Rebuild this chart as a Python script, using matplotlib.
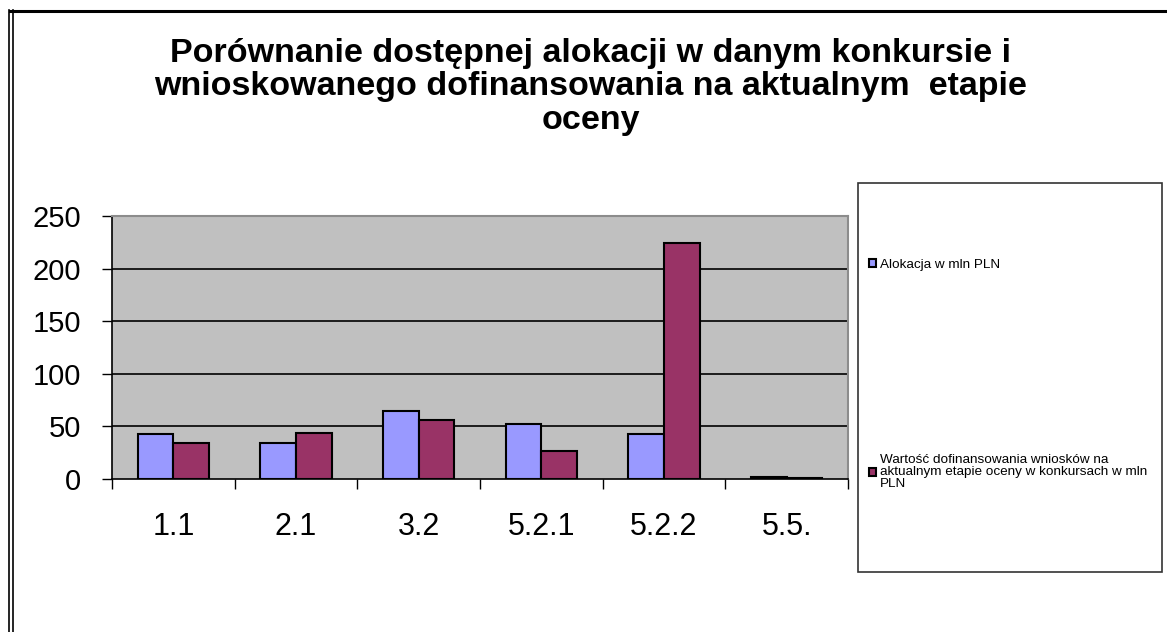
import numpy as np
import matplotlib.pyplot as plt
from matplotlib.lines import Line2D
from matplotlib.patches import Rectangle

categories = ['1.1', '2.1', '3.2', '5.2.1', '5.2.2', '5.5.']
alokacja = [43, 34.5, 65, 52.5, 43, 2]
wnioskowane = [34.5, 44, 56.5, 27, 224.5, 1]
series_labels = ['Alokacja w mln PLN',
                 'Wartość dofinansowania wniosków na\naktualnym etapie oceny w konkursach w mln\nPLN']
y_ticks = [0, 50, 100, 150, 200, 250]

title = ('Porównanie dostępnej alokacji w danym konkursie i\n'
         'wnioskowanego dofinansowania na aktualnym  etapie\n'
         'oceny')

plt.rcParams['font.family'] = ['Liberation Sans', 'DejaVu Sans']

W, H = 1167, 632
fig = plt.figure(figsize=(W / 100, H / 100), dpi=100)

# ramka wokół całego wykresu
fig.add_artist(Line2D([10 / W, 1], [1 - 10.5 / H] * 2, color='black', lw=2.2))
for xp in (9, 12.5):
    fig.add_artist(Line2D([xp / W] * 2, [0, 1 - 10 / H], color='black', lw=1.2))

fig.text(591 / W, 1 - 38 / H, title, ha='center', va='top', fontsize=24.5,
         fontweight='bold', linespacing=1.1)

ax = fig.add_axes([112 / W, 1 - 479 / H, 736 / W, 263 / H])
ax.set_facecolor('#C0C0C0')

x = np.arange(len(categories))
bw = 0.29
b1 = ax.bar(x - bw / 2, alokacja, bw, color='#9999FF', edgecolor='black', lw=1.5, zorder=3)
b2 = ax.bar(x + bw / 2, wnioskowane, bw, color='#993366', edgecolor='black', lw=1.5, zorder=3)

ax.set_xlim(-0.5, len(categories) - 0.5)
ax.set_ylim(0, 250)
ax.set_yticks(y_ticks)
ax.set_yticklabels([str(v) for v in y_ticks], fontsize=21)
for v in y_ticks[1:-1]:
    ax.axhline(v, color='black', lw=1.2, zorder=1)

ax.set_xticks(np.arange(-0.5, len(categories)), labels=[''] * (len(categories) + 1))
ax.set_xticks(x, labels=categories, minor=True, fontsize=22)
ax.tick_params(axis='x', which='major', direction='out', length=7, width=1, color='black')
ax.tick_params(axis='x', which='minor', length=0, pad=24)
ax.tick_params(axis='y', direction='out', length=7, width=1, pad=15)

for s in ('left', 'bottom'):
    ax.spines[s].set_color('black')
    ax.spines[s].set_linewidth(1.2)
for s in ('top', 'right'):
    ax.spines[s].set_color('#8C8C8C')
    ax.spines[s].set_linewidth(1.5)

# legenda
fig.add_artist(Rectangle((858 / W, 1 - 572 / H), 304 / W, 389 / H, transform=fig.transFigure,
                         facecolor='white', edgecolor='#333333', lw=1.2, zorder=0))
leg = fig.legend([b1, b2], series_labels, loc='upper left', bbox_to_anchor=(869 / W, 1 - 259 / H),
                 frameon=False, fontsize=9.7, handlelength=0.55, handleheight=0.55,
                 handletextpad=0.25, labelspacing=13.6, borderpad=0, borderaxespad=0)
for t in leg.get_texts():
    t.set_linespacing(1.0)

fig.savefig('out.png', dpi=100)
